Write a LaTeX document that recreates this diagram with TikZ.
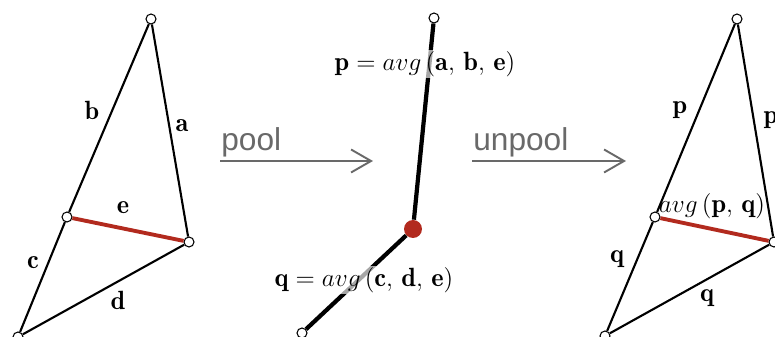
\documentclass[tikz,border=0pt]{standalone}
\usepackage{fontspec}
\setsansfont{Liberation Sans}
\usepackage{xcolor}
\usepackage{amsmath}
\usetikzlibrary{arrows.meta,positioning}
\definecolor{edgered}{RGB}{178,42,30}
\definecolor{opgray}{RGB}{105,105,105}

\begin{document}
\begin{tikzpicture}[x=0.02cm, y=-0.02cm, every node/.style={font=\fontsize{15}{18}\selectfont},
  vert/.style={draw, circle, fill=white, inner sep=0pt, minimum size=0.2cm, line width=0.6pt},
  triedge/.style={line width=1.2pt},
  rededge/.style={draw=edgered, line width=2.2pt},
  fatedge/.style={line width=2.4pt},
  avglbl/.style={fill=white, fill opacity=0.65, text opacity=1, inner sep=1pt},
  opline/.style={draw=opgray, line width=1.1pt, -{Straight Barb[length=0.4cm,width=0.46cm,line width=1.1pt]}},
  optext/.style={font=\sffamily\fontsize{18}{20}\selectfont, text=opgray}]
  \useasboundingbox (0,0) rectangle (775,337);

  % input mesh
  \node[vert] (lt) at (151,19) {};
  \node[vert] (lm) at (67,217) {};
  \node[vert] (lr) at (189,242) {};
  \node[vert] (lb) at (18,337) {};
  \draw[triedge] (lt)--(lr) (lt)--(lm) (lm)--(lb) (lb)--(lr);
  \draw[rededge] (lm)--(lr);
  \node (la) at (182,126) {$\mathbf{a}$};
  \node (lbb) at (92,110) {$\mathbf{b}$};
  \node (lc) at (33,263) {$\mathbf{c}$};
  \node (ld) at (118,300) {$\mathbf{d}$};
  \node (le) at (123,208) {$\mathbf{e}$};

  % pool
  \coordinate (pool1) at (220,161);
  \coordinate (pool2) at (373,161);
  \draw[opline] (pool1)--(pool2);
  \node[optext, anchor=base west, inner sep=0pt] (pooltxt) at (221,151) {pool};

  % collapsed edge
  \node[vert] (mt) at (434,18) {};
  \node[circle, fill=edgered, inner sep=0pt, minimum size=0.36cm] (mp) at (413,229) {};
  \node[vert] (mb) at (302,333) {};
  \draw[fatedge] (mt)--(mp)--(mb);
  \node[avglbl] (pavg) at (425,64) {$\mathbf{p} = avg\,(\mathbf{a},\,\mathbf{b},\,\mathbf{e})$};
  \node[avglbl] (qavg) at (364,280) {$\mathbf{q} = avg\,(\mathbf{c},\,\mathbf{d},\,\mathbf{e})$};

  % unpool
  \coordinate (unpool1) at (472,161);
  \coordinate (unpool2) at (626,161);
  \draw[opline] (unpool1)--(unpool2);
  \node[optext, anchor=base west, inner sep=0pt] (unpooltxt) at (473,151) {unpool};

  % output mesh
  \node[vert] (rt) at (737,19) {};
  \node[vert] (rm) at (655,217) {};
  \node[vert] (rr) at (774,242) {};
  \node[vert] (rb) at (605,336) {};
  \draw[triedge] (rt)--(rr) (rt)--(rm) (rm)--(rb) (rb)--(rr);
  \draw[rededge] (rm)--(rr);
  \node (rp1) at (680,110) {$\mathbf{p}$};
  \node (rp2) at (771,120) {$\mathbf{p}$};
  \node (rq1) at (617,259) {$\mathbf{q}$};
  \node (rq2) at (707,298) {$\mathbf{q}$};
  \node[inner sep=1pt] (ravg) at (712,206) {$avg\,(\mathbf{p},\,\mathbf{q})$};
\end{tikzpicture}
\end{document}
